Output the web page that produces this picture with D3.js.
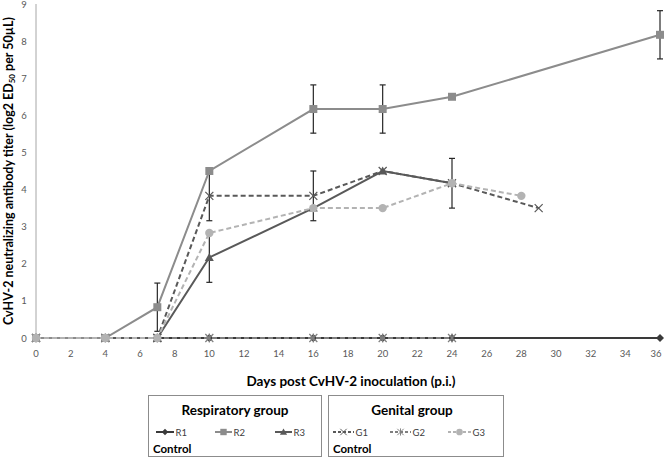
<!DOCTYPE html>
<html><head><meta charset="utf-8">
<script src="https://cdn.jsdelivr.net/npm/d3@7"></script>
<style>body{margin:0;background:#fff}svg{display:block}text{font-family:Lato,"Open Sans",sans-serif}</style>
</head><body><svg id="c" width="664" height="458"></svg>
<script>
const xTicks = [0,2,4,6,8,10,12,14,16,18,20,22,24,26,28,30,32,34,36];
const yTicks = [0,1,2,3,4,5,6,7,8,9];
const R1 = [[0,0],[4,0],[7,0],[10,0],[16,0],[20,0],[24,0],[36,0]];
const R2 = [[0,0],[4,0],[7,0.83],[10,4.5],[16,6.17],[20,6.17],[24,6.5],[36,8.17]];
const R3 = [[0,0],[4,0],[7,0],[10,2.17],[16,3.5],[20,4.5],[24,4.17]];
const G1 = [[0,0],[4,0],[7,0],[10,3.83],[16,3.83],[20,4.5],[24,4.17],[29,3.5]];
const G2 = [[0,0],[4,0],[7,0],[10,0],[16,0],[20,0],[24,0]];
const G3 = [[0,0],[4,0],[7,0],[10,2.83],[16,3.5],[20,3.5],[24,4.17],[28,3.83]];
// error bars: [x, y, half-range]
const errR2 = [[7,0.83,0.65],[16,6.17,0.65],[20,6.17,0.65],[36,8.17,0.65]];
const errR3 = [[10,2.17,0.67],[24,4.17,0.67]];
const errG1 = [[10,3.83,0.67],[16,3.83,0.67]];

const svg = d3.select("#c");
const x = d3.scaleLinear().domain([0,36]).range([36,660]);
const y = d3.scaleLinear().domain([0,9]).range([338,4]);

svg.append("line").attr("x1",x(0)).attr("x2",x(0)).attr("y1",y(9)).attr("y2",y(0)).attr("stroke","#a6a6a6");
svg.append("line").attr("x1",x(0)).attr("x2",x(36)).attr("y1",y(0)).attr("y2",y(0)).attr("stroke","#a6a6a6");
svg.selectAll(".yt").data(yTicks).enter().append("text")
  .attr("x",24).attr("y",d=>y(d)+3.5).attr("text-anchor","middle")
  .attr("font-size",9.5).attr("fill","#595959").text(d=>d);
svg.selectAll(".xt").data(xTicks).enter().append("text")
  .attr("x",d=>Math.min(x(d),656)).attr("y",357).attr("text-anchor","middle")
  .attr("font-size",9.5).attr("fill","#595959").text(d=>d);

svg.append("text").attr("x",351).attr("y",386).attr("text-anchor","middle")
  .attr("font-size",13.5).attr("font-weight","bold").attr("fill","#000")
  .text("Days post CvHV-2 inoculation (p.i.)");
const yt = svg.append("text").attr("transform","translate(13,171) rotate(-90)")
  .attr("text-anchor","middle").attr("font-size",12.5).attr("font-weight","bold");
yt.append("tspan").text("CvHV-2 neutralizing antibody titer (log2 ED");
yt.append("tspan").attr("font-size",8).attr("dy",2).text("50");
yt.append("tspan").attr("dy",-2).text(" per 50µL)");

const line = d3.line().x(d=>x(d[0])).y(d=>y(d[1]));

function marker(g, type, cx, cy, color){
  if(type==="diamond"){
    g.append("path").attr("d",`M${cx},${cy-4}L${cx+4},${cy}L${cx},${cy+4}L${cx-4},${cy}Z`).attr("fill",color);
  } else if(type==="square"){
    g.append("rect").attr("x",cx-4).attr("y",cy-4).attr("width",8).attr("height",8).attr("fill",color);
  } else if(type==="triangle"){
    g.append("path").attr("d",`M${cx},${cy-4.5}L${cx+4.5},${cy+3.5}L${cx-4.5},${cy+3.5}Z`).attr("fill",color);
  } else if(type==="x"){
    g.append("path").attr("d",`M${cx-4},${cy-4}L${cx+4},${cy+4}M${cx-4},${cy+4}L${cx+4},${cy-4}`).attr("stroke",color).attr("stroke-width",1.2);
  } else if(type==="star"){
    g.append("path").attr("d",`M${cx-4},${cy-4}L${cx+4},${cy+4}M${cx-4},${cy+4}L${cx+4},${cy-4}M${cx},${cy-4.5}L${cx},${cy+4.5}`).attr("stroke",color).attr("stroke-width",1.2);
  } else if(type==="circle"){
    g.append("circle").attr("cx",cx).attr("cy",cy).attr("r",4.2).attr("fill",color);
  }
}

const series = [
  {name:"R1",data:R1,color:"#3a3a3a",dash:null,m:"diamond"},
  {name:"G2",data:G2,color:"#7f7f7f",dash:"5,3",m:"star"},
  {name:"R3",data:R3,color:"#595959",dash:null,m:"triangle"},
  {name:"G1",data:G1,color:"#595959",dash:"5,3",m:"x"},
  {name:"R2",data:R2,color:"#8c8c8c",dash:null,m:"square"},
  {name:"G3",data:G3,color:"#b3b3b3",dash:"5,3",m:"circle"}
];

function errs(arr){
  const g = svg.append("g").attr("stroke","#262626").attr("stroke-width",1.2);
  arr.forEach(e=>{
    g.append("line").attr("x1",x(e[0])).attr("x2",x(e[0])).attr("y1",y(e[1]-e[2])).attr("y2",y(e[1]+e[2]));
    [e[1]-e[2],e[1]+e[2]].forEach(v=>g.append("line").attr("x1",x(e[0])-3).attr("x2",x(e[0])+3).attr("y1",y(v)).attr("y2",y(v)));
  });
}
errs(errR2); errs(errR3); errs(errG1);

series.forEach(s=>{
  svg.append("path").datum(s.data).attr("d",line).attr("fill","none")
    .attr("stroke",s.color).attr("stroke-width",2).attr("stroke-dasharray",s.dash);
  const g = svg.append("g");
  s.data.forEach(d=>marker(g,s.m,x(d[0]),y(d[1]),s.color));
});

function legendBox(x0,x1,title,items,titleX){
  svg.append("rect").attr("x",x0+0.5).attr("y",395.5).attr("width",x1-x0).attr("height",61).attr("fill","#fff").attr("stroke","#8c8c8c");
  svg.append("text").attr("x",titleX).attr("y",415).attr("text-anchor","middle").attr("font-size",13.5).attr("font-weight","bold").text(title);
  items.forEach(it=>{
    const s = series.find(d=>d.name===it.name);
    svg.append("line").attr("x1",it.x1).attr("x2",it.x2).attr("y1",432).attr("y2",432).attr("stroke",s.color).attr("stroke-width",2).attr("stroke-dasharray",s.dash?"3,2":null);
    const g = svg.append("g");
    const mx=(it.x1+it.x2)/2;
    g.attr("transform",`translate(${mx},432) scale(0.8) translate(${-mx},-432)`);
    marker(g,s.m,mx,432,s.color);
    svg.append("text").attr("x",it.x2+1.5).attr("y",435.5).attr("font-size",9.5).attr("fill","#404040").text(it.name);
  });
  svg.append("text").attr("x",x0+5).attr("y",453).attr("font-size",11.5).attr("font-weight","bold").text("Control");
}
legendBox(148,321,"Respiratory group",[{name:"R1",x1:156,x2:174},{name:"R2",x1:215,x2:232},{name:"R3",x1:275,x2:292}],235);
legendBox(328,503,"Genital group",[{name:"G1",x1:333,x2:354},{name:"G2",x1:390,x2:411},{name:"G3",x1:448,x2:471}],412);
</script></body></html>
